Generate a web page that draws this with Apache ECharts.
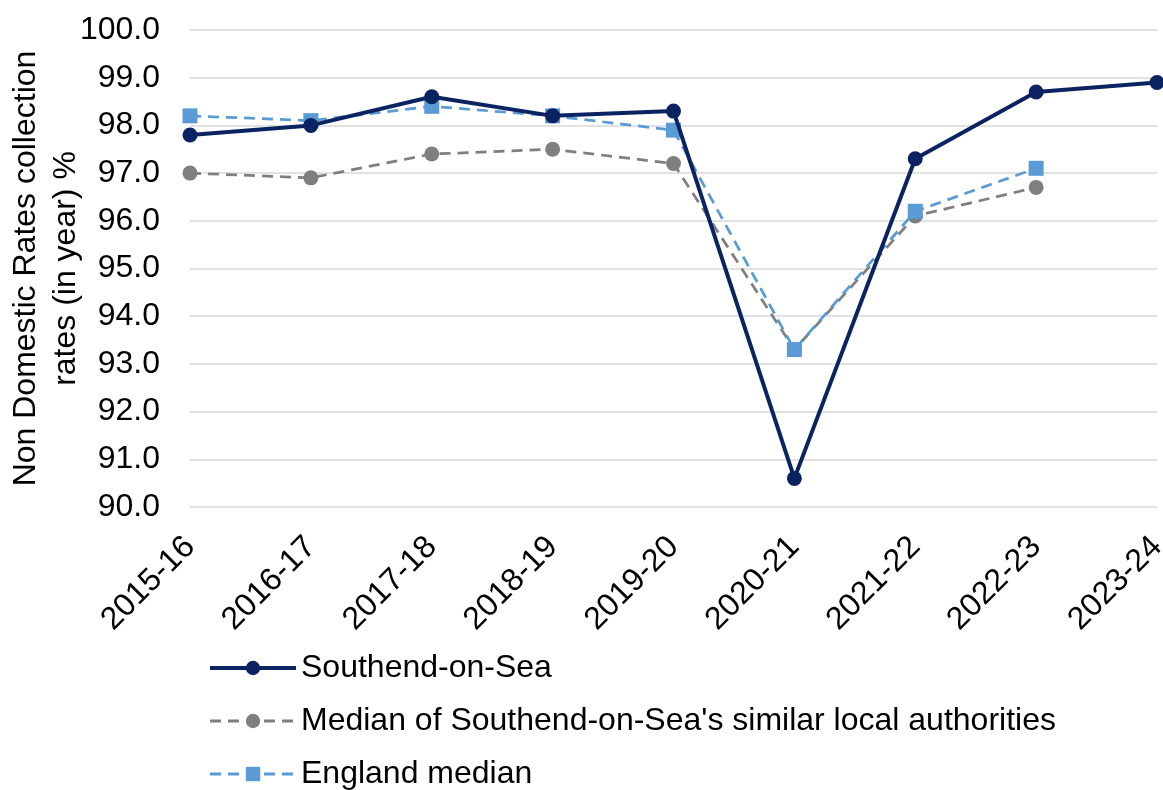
<!DOCTYPE html>
<html><head><meta charset="utf-8">
<script src="https://cdn.jsdelivr.net/npm/echarts@6/dist/echarts.min.js"></script>
<style>html,body{margin:0;padding:0;background:#fff}#c{width:1163px;height:790px}</style>
</head><body><div id="c"></div>
<script>
const categories = ['2015-16','2016-17','2017-18','2018-19','2019-20','2020-21','2021-22','2022-23','2023-24'];
const southend = [97.8, 98.0, 98.6, 98.2, 98.3, 90.6, 97.3, 98.7, 98.9];
const similar = [97.0, 96.9, 97.4, 97.5, 97.2, 93.3, 96.1, 96.7, null];
const england = [98.2, 98.1, 98.4, 98.2, 97.9, 93.3, 96.2, 97.1, null];
const seriesNames = ['Southend-on-Sea', "Median of Southend-on-Sea's similar local authorities", 'England median'];

const chart = echarts.init(document.getElementById('c'));
const font = 'Liberation Sans, Arial, sans-serif';
const fs = 32;
chart.setOption({
  animation: false,
  textStyle: {fontFamily: font},
  grid: {left: 190, right: 6, top: 30, bottom: 283, containLabel: false, outerBoundsMode: 'none'},
  xAxis: {
    type: 'category', data: categories, boundaryGap: false,
    axisLine: {show: false}, axisTick: {show: false},
    axisLabel: {rotate: 45, fontSize: fs, color: '#000', fontFamily: font, margin: 35}
  },
  yAxis: {
    type: 'value', min: 90, max: 100, interval: 1,
    name: 'Non Domestic Rates collection\nrates (in year) %',
    nameLocation: 'middle', nameGap: 104, nameRotate: 90, nameMoveOverlap: false,
    nameTextStyle: {fontSize: fs, color: '#000', fontFamily: font, lineHeight: 40},
    axisLine: {show: false}, axisTick: {show: false},
    axisLabel: {fontSize: fs, color: '#000', fontFamily: font, margin: 30, formatter: v => v.toFixed(1)},
    splitLine: {lineStyle: {color: '#d9d9d9', width: 1.5}}
  },
  legend: {
    orient: 'vertical', left: 203, top: 647, height: 220, itemGap: 21, itemWidth: 86, itemHeight: 18,
    textStyle: {fontSize: fs, color: '#000', fontFamily: font},
    data: [
      {name: seriesNames[0], lineStyle: {width: 4}},
      {name: seriesNames[1], lineStyle: {width: 3}},
      {name: seriesNames[2], lineStyle: {width: 3}}
    ]
  },
  series: [
    {name: seriesNames[0], type: 'line', data: southend, symbol: 'circle', symbolSize: 15,
     lineStyle: {color: '#0b2461', width: 4}, itemStyle: {color: '#0b2461'}, z: 5},
    {name: seriesNames[1], type: 'line', data: similar, symbol: 'circle', symbolSize: 15,
     lineStyle: {color: '#7f7f7f', width: 2.75, type: [11, 7]}, itemStyle: {color: '#7f7f7f'}, z: 3},
    {name: seriesNames[2], type: 'line', data: england, symbol: 'rect', symbolSize: 15,
     lineStyle: {color: '#5b9bd5', width: 2.75, type: [11, 7]}, itemStyle: {color: '#5b9bd5'}, z: 4}
  ]
});
</script></body></html>
